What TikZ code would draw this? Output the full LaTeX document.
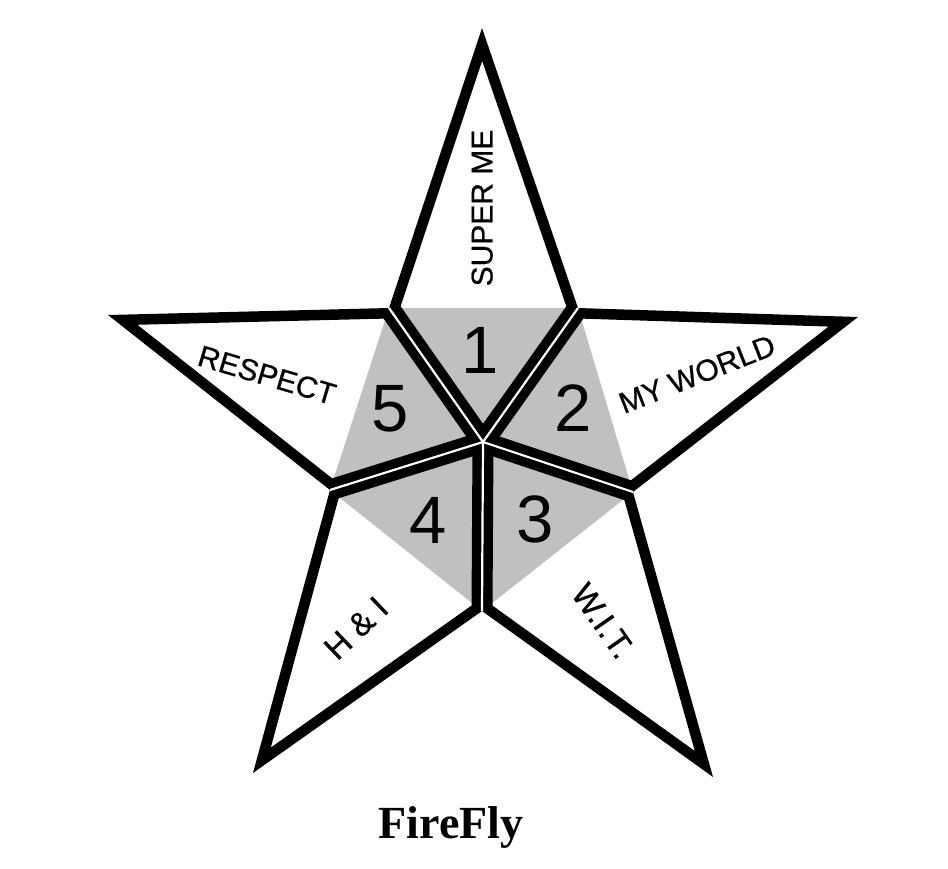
\documentclass[tikz,border=0pt]{standalone}
\usepackage{fontspec}
\setmainfont{Liberation Sans}
\newfontfamily\lblfont[FakeBold=0.6]{Liberation Sans}
\newfontfamily\titlefont{Liberation Serif}
\definecolor{padgray}{RGB}{192,192,192}
\begin{document}
\begin{tikzpicture}[x=1pt,y=-1pt,line join=miter]
\tikzset{
  kiteborder/.style={draw=black,line width=21pt},
  gapline/.style={draw=white,line width=2.2pt},
  lbl/.style={inner sep=0pt,text depth=0pt,text=black,font=\lblfont\fontsize{30}{36}\selectfont},
  lblbig/.style={lbl,font=\lblfont\fontsize{33}{40}\selectfont},
  num/.style={inner sep=0pt,text depth=0pt,text=black,font=\fontsize{67}{80}\selectfont},
}
\useasboundingbox[fill=white] (0,0) rectangle (948,868);
% star geometry
\coordinate (T)  at (482,28);
\coordinate (A)  at (578,308);
\coordinate (R)  at (858,317);
\coordinate (B)  at (633,492);
\coordinate (BR) at (713,777);
\coordinate (C)  at (482,611);
\coordinate (BL) at (253,773);
\coordinate (D)  at (330,490);
\coordinate (L)  at (108,315);
\coordinate (E)  at (389,308);
\coordinate (O)  at (483,442);
% five kites
\foreach \p/\a/\b in {T/A/E, R/B/A, BR/C/B, BL/D/C, L/E/D}{
  \begin{scope}
    \clip (\p) -- (\a) -- (O) -- (\b) -- cycle;
    \fill[padgray] (\a) -- (O) -- (\b) -- cycle;
    \draw[kiteborder] (\p) -- (\a) -- (O) -- (\b) -- cycle;
  \end{scope}
}
% white gaps between kites
\foreach \v in {A,B,C,D,E}{
  \draw[gapline] (O) -- (\v);
}
% labels
\node[lbl,rotate=90]    (superme) at (482,208) {SUPER ME};
\node[lbl,rotate=21.6]  (myworld) at (697,374) {MY WORLD};
\node[lbl,rotate=-16.5] (respect) at (267,375) {RESPECT};
\node[lblbig,rotate=43.6]  (hi)   at (356,628) {H \& I};
\node[lblbig,rotate=-55]   (wit)  at (603,621) {W.I.T.};
% numbers
\node[num] (n1) at (480,350) {1};
\node[num] (n2) at (573,408) {2};
\node[num] (n3) at (535,519) {3};
\node[num] (n4) at (428,520) {4};
\node[num] (n5) at (390,408) {5};
% title
\node[anchor=base,inner sep=0pt,font=\titlefont\bfseries\fontsize{46}{54}\selectfont] (title) at (451,838) {FireFly};
\end{tikzpicture}
\end{document}
